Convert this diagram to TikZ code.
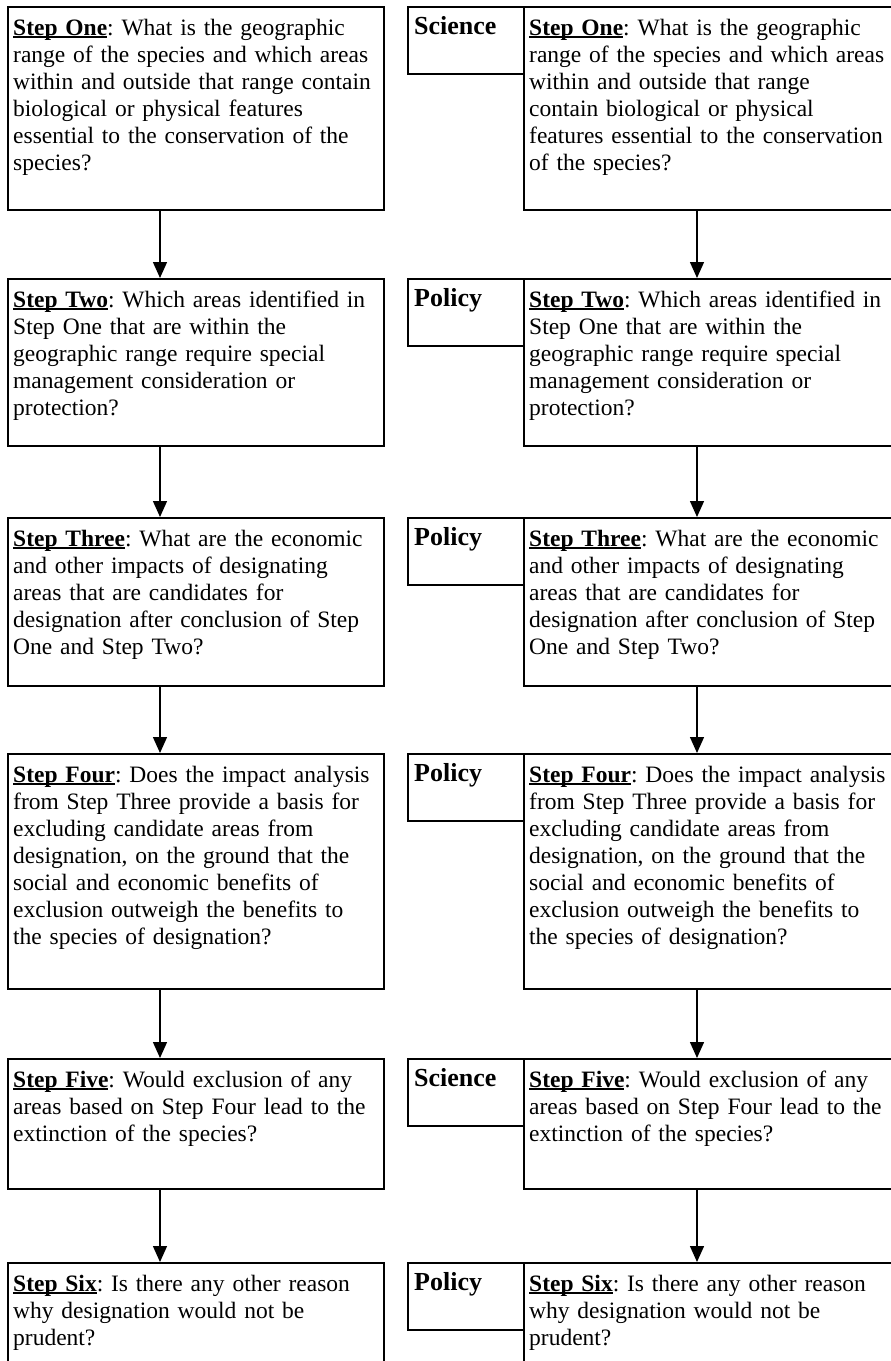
\documentclass[tikz,border=0pt]{standalone}
\usepackage{fontspec}
\setmainfont{Liberation Serif}
\usetikzlibrary{arrows.meta}
\frenchspacing
\newcommand\stp[1]{\setbox0\hbox{\bfseries #1}\rlap{\rule[-2.4pt]{\wd0}{1.3pt}}\box0}
\begin{document}
\begin{tikzpicture}[x=1pt,y=-1pt,
  box/.style={draw, line width=1.6pt, rectangle, inner sep=0pt, anchor=north west},
  mainL/.style={box, minimum width=376pt},
  mainR/.style={box, minimum width=380pt},
  labbox/.style={box, minimum width=116pt, minimum height=67pt},
  txt/.style={anchor=north west, inner sep=0pt, align=left, text width=380pt,
    font=\fontsize{23.5}{27}\selectfont\frenchspacing, xshift=6pt, yshift=-10pt},
  labtxt/.style={anchor=north west, inner sep=0pt,
    font=\fontsize{26}{27}\selectfont\bfseries, xshift=7pt, yshift=-10pt},
  arr/.style={-{Triangle[length=16pt,width=14pt]}, line width=1.4pt}]
\useasboundingbox (0,0) rectangle (891,1361);
\clip (0,0) rectangle (891,1361);
\coordinate (aL) at (160,0);
\coordinate (aR) at (697,0);
% left column boxes
\node[mainL, minimum height=203pt] (L1) at (7,6) {};
\node[mainL, minimum height=167pt] (L2) at (7,278) {};
\node[mainL, minimum height=168pt] (L3) at (7,517) {};
\node[mainL, minimum height=235pt] (L4) at (7,753) {};
\node[mainL, minimum height=130pt] (L5) at (7,1058) {};
\node[mainL, minimum height=140pt] (L6) at (7,1262) {};
% right column boxes
\node[mainR, minimum height=203pt] (R1) at (523,6) {};
\node[mainR, minimum height=167pt] (R2) at (523,278) {};
\node[mainR, minimum height=168pt] (R3) at (523,517) {};
\node[mainR, minimum height=235pt] (R4) at (523,753) {};
\node[mainR, minimum height=130pt] (R5) at (523,1058) {};
\node[mainR, minimum height=140pt] (R6) at (523,1262) {};
% label boxes
\node[labbox] (S1) at (407,6) {};
\node[labbox] (S2) at (407,278) {};
\node[labbox] (S3) at (407,517) {};
\node[labbox] (S4) at (407,753) {};
\node[labbox] (S5) at (407,1058) {};
\node[labbox] (S6) at (407,1262) {};
\node[labtxt] (S1t) at (S1.north west) {Science};
\node[labtxt] (S2t) at (S2.north west) {Policy};
\node[labtxt] (S3t) at (S3.north west) {Policy};
\node[labtxt] (S4t) at (S4.north west) {Policy};
\node[labtxt] (S5t) at (S5.north west) {Science};
\node[labtxt] (S6t) at (S6.north west) {Policy};
% left texts
\node[txt] (L1t) at (L1.north west) {\strut\stp{Step One}: What is the geographic\\ range of the species and which areas\\ within and outside that range contain\\ biological or physical features\\ essential to the conservation of the\\ species?};
\node[txt] (L2t) at (L2.north west) {\strut\stp{Step Two}: Which areas identified in\\ Step One that are within the\\ geographic range require special\\ management consideration or\\ protection?};
\node[txt] (L3t) at (L3.north west) {\strut\stp{Step Three}: What are the economic\\ and other impacts of designating\\ areas that are candidates for\\ designation after conclusion of Step\\ One and Step Two?};
\node[txt] (L4t) at (L4.north west) {\strut\stp{Step Four}: Does the impact analysis\\ from Step Three provide a basis for\\ excluding candidate areas from\\ designation, on the ground that the\\ social and economic benefits of\\ exclusion outweigh the benefits to\\ the species of designation?};
\node[txt] (L5t) at (L5.north west) {\strut\stp{Step Five}: Would exclusion of any\\ areas based on Step Four lead to the\\ extinction of the species?};
\node[txt] (L6t) at (L6.north west) {\strut\stp{Step Six}: Is there any other reason\\ why designation would not be\\ prudent?};
% right texts
\node[txt] (R1t) at (R1.north west) {\strut\stp{Step One}: What is the geographic\\ range of the species and which areas\\ within and outside that range\\ contain biological or physical\\ features essential to the conservation\\ of the species?};
\node[txt] (R2t) at (R2.north west) {\strut\stp{Step Two}: Which areas identified in\\ Step One that are within the\\ geographic range require special\\ management consideration or\\ protection?};
\node[txt] (R3t) at (R3.north west) {\strut\stp{Step Three}: What are the economic\\ and other impacts of designating\\ areas that are candidates for\\ designation after conclusion of Step\\ One and Step Two?};
\node[txt] (R4t) at (R4.north west) {\strut\stp{Step Four}: Does the impact analysis\\ from Step Three provide a basis for\\ excluding candidate areas from\\ designation, on the ground that the\\ social and economic benefits of\\ exclusion outweigh the benefits to\\ the species of designation?};
\node[txt] (R5t) at (R5.north west) {\strut\stp{Step Five}: Would exclusion of any\\ areas based on Step Four lead to the\\ extinction of the species?};
\node[txt] (R6t) at (R6.north west) {\strut\stp{Step Six}: Is there any other reason\\ why designation would not be\\ prudent?};
% arrows
\draw[arr] (L1.south -| aL) -- (L2.north -| aL);
\draw[arr] (L2.south -| aL) -- (L3.north -| aL);
\draw[arr] (L3.south -| aL) -- (L4.north -| aL);
\draw[arr] (L4.south -| aL) -- (L5.north -| aL);
\draw[arr] (L5.south -| aL) -- (L6.north -| aL);
\draw[arr] (R1.south -| aR) -- (R2.north -| aR);
\draw[arr] (R2.south -| aR) -- (R3.north -| aR);
\draw[arr] (R3.south -| aR) -- (R4.north -| aR);
\draw[arr] (R4.south -| aR) -- (R5.north -| aR);
\draw[arr] (R5.south -| aR) -- (R6.north -| aR);
\end{tikzpicture}
\end{document}
